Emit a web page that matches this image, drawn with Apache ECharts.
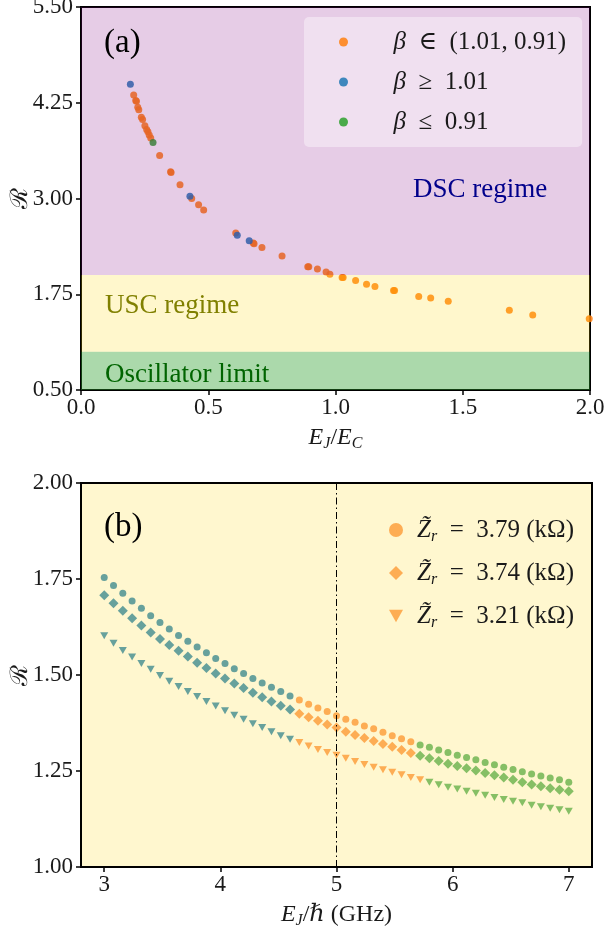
<!DOCTYPE html>
<html>
<head>
<meta charset="utf-8">
<script src="https://cdn.jsdelivr.net/npm/echarts@6/dist/echarts.min.js"></script>
<style>
  html, body { margin: 0; padding: 0; background: #fff; }
  #chart { width: 606px; height: 931px; }
</style>
</head>
<body>
<div id="chart"></div>
<script>
// panel (a): points [E_J/E_C, R] grouped by beta range
const midBeta = [
  [0.207, 4.35], [0.215, 4.28], [0.218, 4.27], [0.223, 4.19], [0.227, 4.16],
  [0.237, 4.06], [0.242, 4.03], [0.251, 3.95], [0.258, 3.90], [0.263, 3.87],
  [0.268, 3.83], [0.274, 3.79], [0.309, 3.56], [0.352, 3.35], [0.354, 3.34],
  [0.389, 3.18], [0.435, 3.00], [0.462, 2.92], [0.482, 2.85], [0.608, 2.55],
  [0.677, 2.42], [0.680, 2.41], [0.711, 2.36], [0.790, 2.25], [0.891, 2.11],
  [0.895, 2.11], [0.929, 2.08], [0.963, 2.04], [0.978, 2.01], [1.026, 1.97],
  [1.030, 1.97], [1.079, 1.93], [1.122, 1.88], [1.155, 1.85], [1.228, 1.80],
  [1.232, 1.80], [1.327, 1.72], [1.374, 1.70], [1.443, 1.66], [1.683, 1.54],
  [1.775, 1.48], [1.997, 1.43]
];
const highBeta = [[0.194, 4.49], [0.428, 3.03], [0.614, 2.52], [0.661, 2.45]];
const lowBeta = [[0.283, 3.73]];
// regime bands [low, high]
const bandRanges = [[0.5, 1.0], [1.0, 2.0], [2.0, 5.5]];
const bandColors = ['rgba(44,160,44,0.4)', 'rgba(255,215,0,0.2)', 'rgba(128,0,128,0.2)'];

const xTicksA = [0.0, 0.5, 1.0, 1.5, 2.0];
const yTicksA = [0.50, 1.75, 3.00, 4.25, 5.50];

// panel (b): E_J/hbar (GHz) and R for three impedances
const freq = [
  3.00, 3.08, 3.16, 3.24, 3.32, 3.40, 3.48, 3.56, 3.64, 3.72,
  3.80, 3.88, 3.96, 4.04, 4.12, 4.20, 4.28, 4.36, 4.44, 4.52,
  4.60, 4.68, 4.76, 4.84, 4.92, 5.00, 5.08, 5.16, 5.24, 5.32,
  5.40, 5.48, 5.56, 5.64, 5.72, 5.80, 5.88, 5.96, 6.04, 6.12,
  6.20, 6.28, 6.36, 6.44, 6.52, 6.60, 6.68, 6.76, 6.84, 6.92, 7.00
];
const z379 = [
  1.754, 1.733, 1.713, 1.693, 1.674, 1.654, 1.637, 1.620, 1.603, 1.588,
  1.573, 1.558, 1.543, 1.530, 1.516, 1.504, 1.491, 1.479, 1.468, 1.457,
  1.445, 1.435, 1.424, 1.414, 1.405, 1.394, 1.385, 1.377, 1.367, 1.360,
  1.351, 1.342, 1.334, 1.326, 1.318, 1.312, 1.305, 1.298, 1.291, 1.285,
  1.279, 1.272, 1.266, 1.260, 1.254, 1.248, 1.242, 1.237, 1.232, 1.227, 1.221
];
const z374 = [
  1.708, 1.687, 1.667, 1.648, 1.629, 1.611, 1.594, 1.578, 1.563, 1.548,
  1.532, 1.518, 1.504, 1.491, 1.478, 1.466, 1.454, 1.442, 1.431, 1.420,
  1.410, 1.399, 1.390, 1.381, 1.371, 1.363, 1.352, 1.344, 1.336, 1.328,
  1.320, 1.313, 1.305, 1.297, 1.290, 1.283, 1.276, 1.269, 1.263, 1.257,
  1.251, 1.245, 1.239, 1.233, 1.227, 1.221, 1.215, 1.210, 1.205, 1.201, 1.197
];
const z321 = [
  1.602, 1.583, 1.564, 1.547, 1.530, 1.515, 1.499, 1.484, 1.470, 1.457,
  1.444, 1.431, 1.419, 1.407, 1.395, 1.385, 1.373, 1.363, 1.352, 1.342,
  1.333, 1.324, 1.315, 1.306, 1.298, 1.291, 1.283, 1.275, 1.267, 1.260,
  1.253, 1.247, 1.240, 1.233, 1.227, 1.221, 1.214, 1.208, 1.203, 1.197,
  1.192, 1.187, 1.181, 1.176, 1.171, 1.167, 1.161, 1.157, 1.153, 1.149, 1.145
];
const xTicksB = [3, 4, 5, 6, 7];
const yTicksB = [1.00, 1.25, 1.50, 1.75, 2.00];
const cutFreq = 5;

const serif = 'Liberation Serif, DejaVu Serif, serif';
const teal = '#418b8e', orange = '#fd9a35', green = '#68b04a';

// colour switches along each curve (first orange index, first green index)
function segColor(orangeFrom, greenFrom) {
  return function (p) {
    if (p.dataIndex < orangeFrom) return teal;
    if (p.dataIndex < greenFrom) return orange;
    return green;
  };
}

function pairs(ys) {
  return freq.map((f, i) => [f, ys[i]]);
}

function renderBand(params, api) {
  const lo = api.coord([0, api.value(0)]);
  const hi = api.coord([0, api.value(1)]);
  const cs = params.coordSys;
  return {
    type: 'rect',
    shape: { x: cs.x, y: hi[1], width: cs.width, height: lo[1] - hi[1] },
    style: { fill: bandColors[params.dataIndex] }
  };
}

const tickStyle = { show: true, inside: false, length: 5, lineStyle: { color: '#000', width: 1.5 } };
const lineStyle = { show: true, lineStyle: { color: '#000', width: 2 } };
const labelStyle = { fontSize: 23, color: '#1a1a1a', fontFamily: serif };
const mathRich = {
  i: { fontStyle: 'italic', fontSize: 24, fontFamily: serif, color: '#1a1a1a', lineHeight: 28 },
  s: { fontStyle: 'italic', fontSize: 16, fontFamily: serif, color: '#1a1a1a', lineHeight: 18, verticalAlign: 'bottom' },
  n: { fontSize: 24, fontFamily: serif, color: '#1a1a1a', lineHeight: 28 }
};
const yNameStyle = { fontSize: 24, fontFamily: serif, color: '#1a1a1a' };

const legendNamesA = { mid: '{i|β}{n|  ∈  (1.01, 0.91)}', high: '{i|β}{n|  ≥  1.01}', low: '{i|β}{n|  ≤  0.91}' };
const legendNamesB = { z1: '3.79', z2: '3.74', z3: '3.21' };

const chart = echarts.init(document.getElementById('chart'));
chart.setOption({
  animation: false,
  backgroundColor: '#fff',
  grid: [
    { left: 81, top: 7, width: 509, height: 383, show: true, borderColor: '#000', borderWidth: 2,
      backgroundColor: 'transparent', outerBoundsMode: 'none', containLabel: false },
    { left: 81, top: 483, width: 511, height: 384, show: true, borderColor: '#000', borderWidth: 2,
      backgroundColor: '#fff7cf', outerBoundsMode: 'none', containLabel: false }
  ],
  xAxis: [
    {
      type: 'value', gridIndex: 0, min: 0, max: 2, interval: 0.5,
      axisLine: lineStyle, axisTick: tickStyle, splitLine: { show: false },
      axisLabel: Object.assign({ margin: 6, formatter: v => v.toFixed(1) }, labelStyle),
      name: '{i|E}{s|J}{n|/}{i|E}{s|C}', nameLocation: 'middle', nameGap: 34, nameMoveOverlap: false,
      nameTextStyle: { rich: mathRich }
    },
    {
      type: 'value', gridIndex: 1, min: 2.8, max: 7.2,
      axisLine: lineStyle, splitLine: { show: false },
      axisTick: Object.assign({ customValues: xTicksB }, tickStyle),
      axisLabel: Object.assign({ margin: 6, customValues: xTicksB, formatter: v => String(v) }, labelStyle),
      name: '{i|E}{s|J}{n|/ℏ (GHz)}', nameLocation: 'middle', nameGap: 34, nameMoveOverlap: false,
      nameTextStyle: { rich: mathRich }
    }
  ],
  yAxis: [
    {
      type: 'value', gridIndex: 0, min: yTicksA[0], max: yTicksA[4], interval: 1.25,
      axisLine: lineStyle, axisTick: tickStyle, splitLine: { show: false },
      axisLabel: Object.assign({ margin: 8, formatter: v => v.toFixed(2) }, labelStyle),
      name: 'ℛ', nameLocation: 'middle', nameGap: 48, nameRotate: 90, nameMoveOverlap: false,
      nameTextStyle: yNameStyle
    },
    {
      type: 'value', gridIndex: 1, min: yTicksB[0], max: yTicksB[4], interval: 0.25,
      axisLine: lineStyle, axisTick: tickStyle, splitLine: { show: false },
      axisLabel: Object.assign({ margin: 8, formatter: v => v.toFixed(2) }, labelStyle),
      name: 'ℛ', nameLocation: 'middle', nameGap: 48, nameRotate: 90, nameMoveOverlap: false,
      nameTextStyle: yNameStyle
    }
  ],
  legend: [
    {
      orient: 'vertical', left: 304, top: 17, padding: [10, 16, 10, 35], itemGap: 10,
      itemWidth: 30, itemHeight: 9, icon: 'circle', z: 20,
      backgroundColor: 'rgba(255,255,255,0.4)', borderRadius: 5,
      data: ['mid', 'high', 'low'],
      formatter: n => legendNamesA[n],
      textStyle: {
        padding: [0, 0, 0, 30], lineHeight: 30,
        rich: {
          i: { fontStyle: 'italic', fontSize: 25, fontFamily: serif, color: '#1a1a1a', lineHeight: 30 },
          n: { fontSize: 25, fontFamily: serif, color: '#1a1a1a', lineHeight: 30 }
        }
      }
    },
    {
      orient: 'vertical', left: 389, top: 515, padding: 0, itemGap: 13,
      itemWidth: 14, itemHeight: 14, z: 20,
      data: [
        { name: 'z1', icon: 'circle', itemStyle: { color: orange } },
        { name: 'z2', icon: 'diamond', itemStyle: { color: orange } },
        { name: 'z3', icon: 'path://M0,0L10,0L5,9Z', itemStyle: { color: orange } }
      ],
      formatter: n => '{i|Z̃}{s|r}{n|  =  ' + legendNamesB[n] + ' (kΩ)}',
      textStyle: {
        padding: [0, 0, 0, 9], lineHeight: 30,
        rich: {
          i: { fontStyle: 'italic', fontSize: 25, fontFamily: serif, color: '#1a1a1a', lineHeight: 30 },
          s: { fontStyle: 'italic', fontSize: 16, fontFamily: serif, color: '#1a1a1a', lineHeight: 16, verticalAlign: 'bottom' },
          n: { fontSize: 25, fontFamily: serif, color: '#1a1a1a', lineHeight: 30 }
        }
      }
    }
  ],
  series: [
    {
      name: 'mid', type: 'scatter', xAxisIndex: 0, yAxisIndex: 0, data: midBeta,
      symbolSize: 7, itemStyle: { color: '#ff7f0e', opacity: 0.85 }, z: 2
    },
    {
      name: 'high', type: 'scatter', xAxisIndex: 0, yAxisIndex: 0, data: highBeta,
      symbolSize: 7, itemStyle: { color: '#1f77b4', opacity: 0.85 }, z: 3
    },
    {
      name: 'low', type: 'scatter', xAxisIndex: 0, yAxisIndex: 0, data: lowBeta,
      symbolSize: 7, itemStyle: { color: '#2ca02c', opacity: 0.85 }, z: 3
    },
    {
      name: 'bands', type: 'custom', xAxisIndex: 0, yAxisIndex: 0, data: bandRanges,
      renderItem: renderBand, silent: true, z: 5
    },
    {
      name: 'z1', type: 'scatter', xAxisIndex: 1, yAxisIndex: 1, data: pairs(z379),
      symbol: 'circle', symbolSize: 7, itemStyle: { color: segColor(21, 34) },
      markLine: {
        silent: true, symbol: ['none', 'none'], label: { show: false },
        lineStyle: { color: '#000', width: 1, type: [7, 3, 1.5, 3] },
        data: [{ xAxis: cutFreq }]
      }
    },
    {
      name: 'z2', type: 'scatter', xAxisIndex: 1, yAxisIndex: 1, data: pairs(z374),
      symbol: 'diamond', symbolSize: 10, itemStyle: { color: segColor(21, 34) }
    },
    {
      name: 'z3', type: 'scatter', xAxisIndex: 1, yAxisIndex: 1, data: pairs(z321),
      symbol: 'path://M0,0L10,0L5,9Z', symbolSize: [8, 7], itemStyle: { color: segColor(21, 35) }
    }
  ],
  graphic: [
    { type: 'text', x: 104, y: 43, z: 100, style: { text: '(a)', font: '33px ' + serif, fill: '#000', verticalAlign: 'middle' } },
    { type: 'text', x: 480, y: 190, z: 100, style: { text: 'DSC regime', font: '27px ' + serif, fill: '#00008b', align: 'center', verticalAlign: 'middle' } },
    { type: 'text', x: 105, y: 306, z: 100, style: { text: 'USC regime', font: '27px ' + serif, fill: '#808000', verticalAlign: 'middle' } },
    { type: 'text', x: 105, y: 375, z: 100, style: { text: 'Oscillator limit', font: '27px ' + serif, fill: '#006400', verticalAlign: 'middle' } },
    { type: 'text', x: 104, y: 527, z: 100, style: { text: '(b)', font: '33px ' + serif, fill: '#000', verticalAlign: 'middle' } }
  ]
});
</script>
</body>
</html>
